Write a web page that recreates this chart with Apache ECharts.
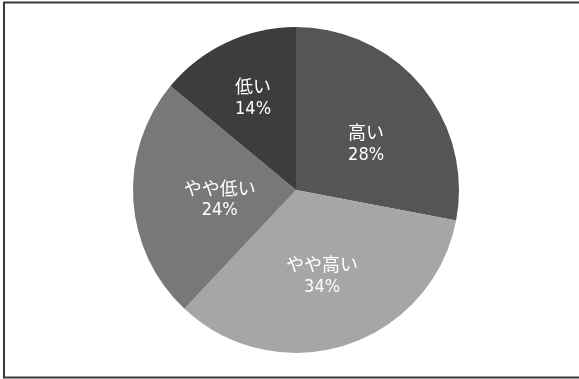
<!DOCTYPE html>
<html>
<head>
<meta charset="utf-8">
<script src="https://cdn.jsdelivr.net/npm/echarts@6/dist/echarts.min.js"></script>
<style>
  html, body { margin: 0; padding: 0; background: #ffffff; }
  #chart { width: 579px; height: 379px; }
</style>
</head>
<body>
<div id="chart"></div>
<script>
// Answer categories, clockwise from 12 o'clock
const categories = ['高い', 'やや高い', 'やや低い', '低い'];
// Share of responses (%)
const shares = [28, 34, 24, 14];
// Slice fills (grey scale)
const sliceColors = ['#555555', '#a6a6a6', '#787878', '#3d3d3d'];
// Small nudges of each label away from the slice's default inside spot [dx, dy]
const labelNudge = [[5, 8], [0, 5], [8, 4], [-7, -16]];

const chart = echarts.init(document.getElementById('chart'), null, { renderer: 'canvas' });

chart.setOption({
  animation: false,
  backgroundColor: '#ffffff',
  graphic: [{
    type: 'rect',
    shape: { x: 4, y: 2.5, width: 580, height: 375 },
    style: { fill: 'none', stroke: '#3a3a3a', lineWidth: 2 },
    silent: true
  }],
  series: [{
    type: 'pie',
    center: [296, 190],
    radius: [0, 163],
    startAngle: 90,
    clockwise: true,
    data: categories.map((name, i) => ({
      name: name,
      value: shares[i],
      itemStyle: { color: sliceColors[i] }
    })),
    itemStyle: { borderWidth: 0 },
    label: {
      show: true,
      position: 'inside',
      formatter: (p) => '{n|' + p.name + '}\n{p|' + p.value + '%}',
      color: '#ffffff',
      align: 'center',
      rich: {
        n: {
          color: '#ffffff',
          fontFamily: '"Noto Sans CJK JP", sans-serif',
          fontSize: 18,
          lineHeight: 23,
          align: 'center'
        },
        p: {
          color: '#ffffff',
          fontFamily: '"DejaVu Sans Condensed", "Liberation Sans Narrow", "Noto Sans", sans-serif',
          fontSize: 18,
          lineHeight: 23,
          align: 'center'
        }
      }
    },
    labelLayout: (params) => ({
      dx: labelNudge[params.dataIndex][0],
      dy: labelNudge[params.dataIndex][1]
    }),
    labelLine: { show: false },
    emphasis: { disabled: true }
  }]
});
</script>
</body>
</html>
